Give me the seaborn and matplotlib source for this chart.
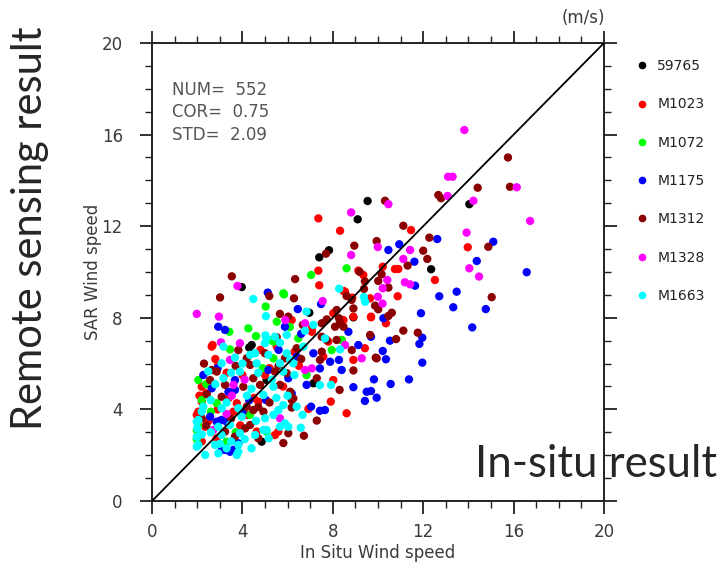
import pandas as pd
import matplotlib.pyplot as plt
import seaborn as sns
from matplotlib.lines import Line2D
from matplotlib.ticker import MultipleLocator

# station names and colours, in legend order
stations = ["59765", "M1023", "M1072", "M1175", "M1312", "M1328", "M1663"]
colors = ["#000000", "#ff0000", "#00ff00", "#0000ff", "#8b0000", "#ff00ff", "#00ffff"]

# (in situ wind speed, SAR wind speed) pairs, m/s
pts_59765 = [(9.54, 13.10), (9.10, 12.30), (7.83, 10.95), (7.40, 10.64), (3.97, 9.34),
             (14.04, 12.96), (12.35, 10.12), (8.91, 8.02), (4.41, 6.81), (4.30, 6.70),
             (5.07, 5.28), (7.14, 5.14), (4.85, 2.59), (6.96, 8.22)]

pts_m1023 = [(7.36, 12.34), (8.32, 11.80), (9.13, 10.06), (9.35, 9.87), (7.36, 10.06),
             (7.40, 9.42), (8.47, 9.17), (9.65, 8.85), (11.46, 11.83), (13.97, 11.08),
             (10.75, 10.13), (10.90, 10.13), (10.21, 10.23), (12.52, 9.65), (10.87, 8.94),
             (10.35, 7.76), (9.69, 8.05), (6.18, 7.90), (7.07, 7.54), (8.02, 8.20),
             (8.91, 8.05), (7.80, 6.96), (8.39, 7.03), (9.42, 6.67), (7.58, 6.30),
             (8.61, 3.83), (7.91, 4.34), (2.68, 6.81), (5.52, 6.81), (2.05, 3.90),
             (2.20, 4.34), (2.64, 6.74), (2.93, 5.94), (2.20, 4.99), (1.98, 3.76),
             (2.35, 3.24), (3.75, 4.27), (2.86, 2.74), (4.19, 3.76), (4.70, 4.34),
             (4.63, 3.03), (5.52, 6.74), (8.02, 5.28), (8.91, 6.16), (6.92, 4.02),
             (5.59, 3.03), (5.44, 2.88), (8.54, 9.14), (8.86, 8.88), (8.47, 7.90),
             (9.69, 8.02), (7.07, 7.39), (2.40, 4.70), (3.30, 5.60), (2.90, 4.00),
             (3.60, 3.90), (5.20, 5.80), (6.30, 6.50), (4.00, 5.50), (2.20, 2.60),
             (3.00, 3.50), (2.50, 3.50), (2.10, 4.60), (3.40, 4.50), (4.50, 4.50),
             (5.00, 5.50), (3.90, 3.30), (5.80, 5.00), (6.50, 5.90), (2.80, 6.20),
             (4.80, 6.60)]

pts_m1072 = [(8.61, 10.16), (7.04, 9.87), (5.84, 9.02), (5.03, 8.49), (5.52, 7.83),
             (3.42, 7.39), (4.26, 7.54), (3.45, 6.62), (5.37, 6.96), (6.47, 7.10),
             (7.95, 6.59), (6.84, 5.50), (1.98, 2.70), (2.20, 4.41), (2.05, 5.28),
             (1.98, 3.10), (2.86, 4.27), (3.30, 2.59), (4.34, 3.76), (5.37, 6.23),
             (5.81, 9.07), (5.30, 7.03), (8.39, 7.03), (5.07, 3.03), (2.05, 3.30),
             (2.40, 5.10), (2.60, 3.90), (3.70, 3.00), (4.90, 5.80), (6.10, 7.60),
             (4.60, 7.20)]

pts_m1175 = [(5.12, 9.10), (6.45, 8.38), (7.48, 8.60), (12.62, 11.44), (10.46, 10.96),
             (10.94, 11.21), (15.10, 11.32), (11.61, 10.45), (14.37, 10.48), (16.58, 9.99),
             (11.64, 9.40), (12.71, 8.94), (13.48, 9.14), (13.33, 8.46), (14.77, 8.38),
             (11.90, 8.20), (10.24, 7.98), (14.17, 7.58), (11.96, 7.13), (11.83, 6.86),
             (10.53, 7.00), (9.69, 7.17), (10.21, 6.55), (10.35, 6.19), (11.96, 6.04),
             (9.82, 5.31), (10.56, 5.11), (11.37, 5.31), (9.69, 4.80), (9.94, 4.51),
             (2.93, 7.61), (3.23, 7.47), (5.88, 7.61), (8.69, 7.39), (9.13, 6.81),
             (7.14, 6.45), (6.40, 6.30), (7.88, 6.08), (8.39, 5.72), (9.50, 4.77),
             (8.91, 4.97), (7.43, 3.94), (7.65, 3.97), (7.04, 4.12), (6.84, 5.07),
             (6.18, 4.70), (3.82, 2.52), (3.60, 2.23), (3.23, 2.23), (2.27, 5.50),
             (2.64, 4.92), (2.57, 3.68), (2.86, 3.46), (3.38, 4.77), (3.67, 4.85),
             (3.08, 3.54), (3.30, 3.46), (3.08, 2.23), (3.45, 2.15), (3.67, 5.28),
             (5.15, 5.72), (6.03, 5.36), (7.43, 5.79), (8.27, 6.16), (9.42, 4.37),
             (5.04, 4.41), (4.00, 3.90), (2.90, 5.80), (5.60, 6.60), (6.60, 7.30),
             (4.30, 4.40)]

pts_m1312 = [(8.95, 11.15), (7.70, 10.80), (6.33, 9.69), (3.53, 9.81), (3.01, 8.89),
             (5.19, 8.95), (6.28, 8.85), (9.38, 9.26), (8.61, 8.95), (8.83, 8.78),
             (9.87, 8.53), (15.75, 15.00), (14.41, 13.68), (15.84, 13.72), (12.67, 13.36),
             (12.79, 13.22), (10.31, 13.11), (11.12, 12.02), (12.27, 11.50), (9.94, 11.35),
             (14.88, 11.10), (12.00, 10.93), (12.18, 10.57), (11.31, 10.28), (10.16, 9.90),
             (10.01, 9.61), (10.46, 9.32), (15.03, 8.90), (10.61, 8.22), (10.46, 8.08),
             (11.12, 7.44), (11.76, 7.35), (10.80, 7.07), (9.90, 6.26), (5.66, 8.17),
             (6.03, 8.05), (5.52, 7.15), (3.82, 6.59), (5.00, 6.45), (6.67, 7.69),
             (7.51, 7.76), (8.32, 7.76), (8.47, 7.61), (8.91, 8.41), (9.65, 7.25),
             (8.17, 7.03), (8.84, 6.59), (7.51, 6.52), (7.43, 6.16), (8.91, 5.70),
             (8.30, 4.85), (7.29, 3.51), (7.29, 5.36), (5.96, 5.58), (6.18, 4.41),
             (6.03, 2.96), (6.72, 2.85), (5.81, 2.53), (4.19, 6.23), (4.34, 5.94),
             (2.64, 5.72), (2.57, 5.28), (2.42, 4.66), (2.20, 3.61), (3.08, 4.55),
             (3.23, 3.03), (3.67, 2.81), (4.12, 3.17), (4.34, 3.32), (4.48, 3.97),
             (4.19, 4.12), (4.78, 5.07), (4.93, 3.90), (4.70, 2.74), (4.04, 4.99),
             (3.23, 5.07), (2.86, 5.65), (4.48, 5.36), (5.88, 6.23), (6.40, 6.67),
             (5.44, 5.65), (5.66, 5.07), (9.94, 6.23), (6.25, 4.48), (6.11, 4.77),
             (6.18, 4.08), (9.42, 9.59), (9.18, 10.01), (8.17, 8.34), (8.27, 7.98),
             (7.73, 7.93), (8.10, 7.61), (10.01, 8.37), (7.51, 7.17), (7.73, 7.03),
             (2.40, 3.30), (3.50, 3.60), (4.70, 4.10), (5.20, 4.30), (5.60, 5.90),
             (6.60, 6.20), (3.70, 5.90), (2.30, 6.00)]

pts_m1328 = [(8.81, 12.60), (8.81, 10.74), (9.99, 11.09), (3.78, 9.39), (9.99, 8.92),
             (7.55, 8.73), (13.82, 16.20), (13.10, 14.16), (13.30, 14.16), (16.14, 13.70),
             (13.08, 13.32), (14.22, 13.11), (10.46, 12.96), (16.73, 12.23), (13.92, 11.72),
             (11.42, 10.96), (11.12, 10.57), (14.04, 10.16), (14.47, 9.80), (10.41, 9.65),
             (11.19, 9.55), (11.42, 9.46), (10.21, 9.29), (10.20, 8.62), (1.98, 8.17),
             (2.96, 8.05), (3.05, 6.93), (3.89, 6.89), (8.54, 6.81), (9.28, 6.23),
             (6.77, 5.72), (7.07, 5.79), (3.45, 6.16), (2.71, 3.10), (3.53, 4.60),
             (3.60, 5.07), (5.66, 3.61), (6.77, 7.76), (3.30, 3.80), (4.10, 5.30),
             (5.90, 7.90)]

pts_m1663 = [(4.48, 8.82), (8.28, 9.27), (9.37, 8.91), (9.43, 8.70), (5.04, 8.07),
             (6.84, 8.27), (5.02, 7.23), (5.96, 7.25), (3.16, 6.74), (5.00, 6.89),
             (4.56, 6.45), (5.66, 6.91), (6.77, 7.43), (7.14, 7.69), (7.65, 7.10),
             (8.32, 6.62), (6.70, 6.74), (7.43, 5.06), (7.92, 5.07), (6.40, 4.12),
             (6.66, 3.76), (6.58, 3.20), (5.16, 2.74), (4.56, 2.88), (3.75, 2.01),
             (2.93, 2.08), (2.35, 2.01), (1.98, 2.37), (2.00, 3.17), (2.05, 3.54),
             (2.49, 5.66), (3.67, 6.26), (3.08, 6.01), (3.89, 5.65), (4.34, 6.38),
             (4.63, 6.01), (2.27, 4.12), (1.98, 3.46), (1.98, 2.80), (2.05, 2.45),
             (2.93, 3.24), (3.08, 4.05), (3.45, 3.32), (3.08, 2.88), (2.79, 2.45),
             (3.30, 2.30), (3.82, 2.15), (3.89, 2.96), (3.82, 2.45), (3.97, 3.68),
             (4.93, 4.63), (5.00, 3.61), (4.93, 3.10), (3.82, 4.05), (3.16, 5.36),
             (5.15, 6.38), (5.66, 6.01), (5.96, 6.45), (6.11, 6.16), (5.81, 5.65),
             (6.25, 6.01), (5.37, 4.99), (5.81, 4.19), (5.59, 3.97), (5.37, 3.76),
             (5.88, 3.39), (5.66, 3.24), (5.07, 3.10), (6.03, 3.24), (5.07, 7.10),
             (5.44, 7.17), (2.20, 3.90), (2.60, 3.00), (3.50, 2.60), (4.10, 2.70),
             (4.40, 2.30), (2.60, 4.40), (3.30, 4.30), (4.60, 3.50), (4.20, 4.60),
             (2.80, 5.10), (3.50, 5.60), (4.70, 5.60), (5.30, 5.30), (6.00, 4.60),
             (6.30, 5.50), (2.20, 2.90), (3.00, 2.50), (4.40, 4.90), (5.50, 4.50),
             (4.00, 6.00)]

stats_lines = ["NUM=  552", "COR=  0.75", "STD=  2.09"]
axis_ticks = list(range(0, 21, 4))

all_pts = [pts_59765, pts_m1023, pts_m1072, pts_m1175, pts_m1312, pts_m1328, pts_m1663]
frames = []
for name, pts in zip(stations, all_pts):
    d = pd.DataFrame(pts, columns=["insitu", "sar"])
    d["station"] = name
    frames.append(d)
df = pd.concat(frames, ignore_index=True)
palette = dict(zip(stations, colors))

sns.set_style("ticks")
plt.rcParams["font.family"] = ["DejaVu Sans"]
text_grey = "#3a3a3a"

fig = plt.figure(figsize=(7.25, 5.68), dpi=100)
ax = fig.add_axes([0.2097, 0.118, 0.6234, 0.8063])

sns.scatterplot(data=df, x="insitu", y="sar", hue="station", palette=palette,
                s=36, linewidth=0, legend=False, ax=ax, zorder=2)
ax.plot([0, 20], [0, 20], color="black", lw=1.3, zorder=3)

ax.set_xlim(0, 20)
ax.set_ylim(0, 20)
ax.set_xticks(axis_ticks)
ax.set_yticks(axis_ticks)
ax.xaxis.set_minor_locator(MultipleLocator(1))
ax.yaxis.set_minor_locator(MultipleLocator(1))
ax.tick_params(which="both", direction="out", top=True, right=True, color="#222222")
ax.tick_params(which="major", length=9, width=1.3, labelsize=12, labelcolor=text_grey)
ax.tick_params(which="minor", length=5, width=1.0)
ax.tick_params(axis="x", which="major", pad=7)
ax.tick_params(axis="y", which="major", pad=12)
for sp in ax.spines.values():
    sp.set_linewidth(1.4)
    sp.set_color("#222222")

ax.set_xlabel("In Situ Wind speed", fontsize=12, color=text_grey, labelpad=2)
ax.set_ylabel("SAR Wind speed", fontsize=12, color=text_grey, labelpad=0)

for i, line in enumerate(stats_lines):
    ax.text(0.9, 17.95 - i * 0.98, line, fontsize=12, color="#555555", va="center")

fig.text(0.804, 0.968, "(m/s)", fontsize=12, color=text_grey, ha="center", va="center")

handles = [Line2D([], [], marker="o", ls="", color=c, markersize=4.5) for c in colors]
ax.legend(handles, stations, loc="upper left", bbox_to_anchor=(0.876, 0.896),
          bbox_transform=fig.transFigure, frameon=False, fontsize=10,
          labelspacing=1.75, handlelength=1.0, handletextpad=0.6,
          borderpad=0, borderaxespad=0, labelcolor="#222222")

fig.text(0.041, 0.599, "Remote sensing result", rotation=90, fontsize=30,
         family=["Lato", "DejaVu Sans"], ha="center", va="center")
fig.text(0.655, 0.160, "In-situ result", fontsize=31.5,
         family=["Lato", "DejaVu Sans"], ha="left", va="baseline")

fig.savefig("out.png", dpi=100)
